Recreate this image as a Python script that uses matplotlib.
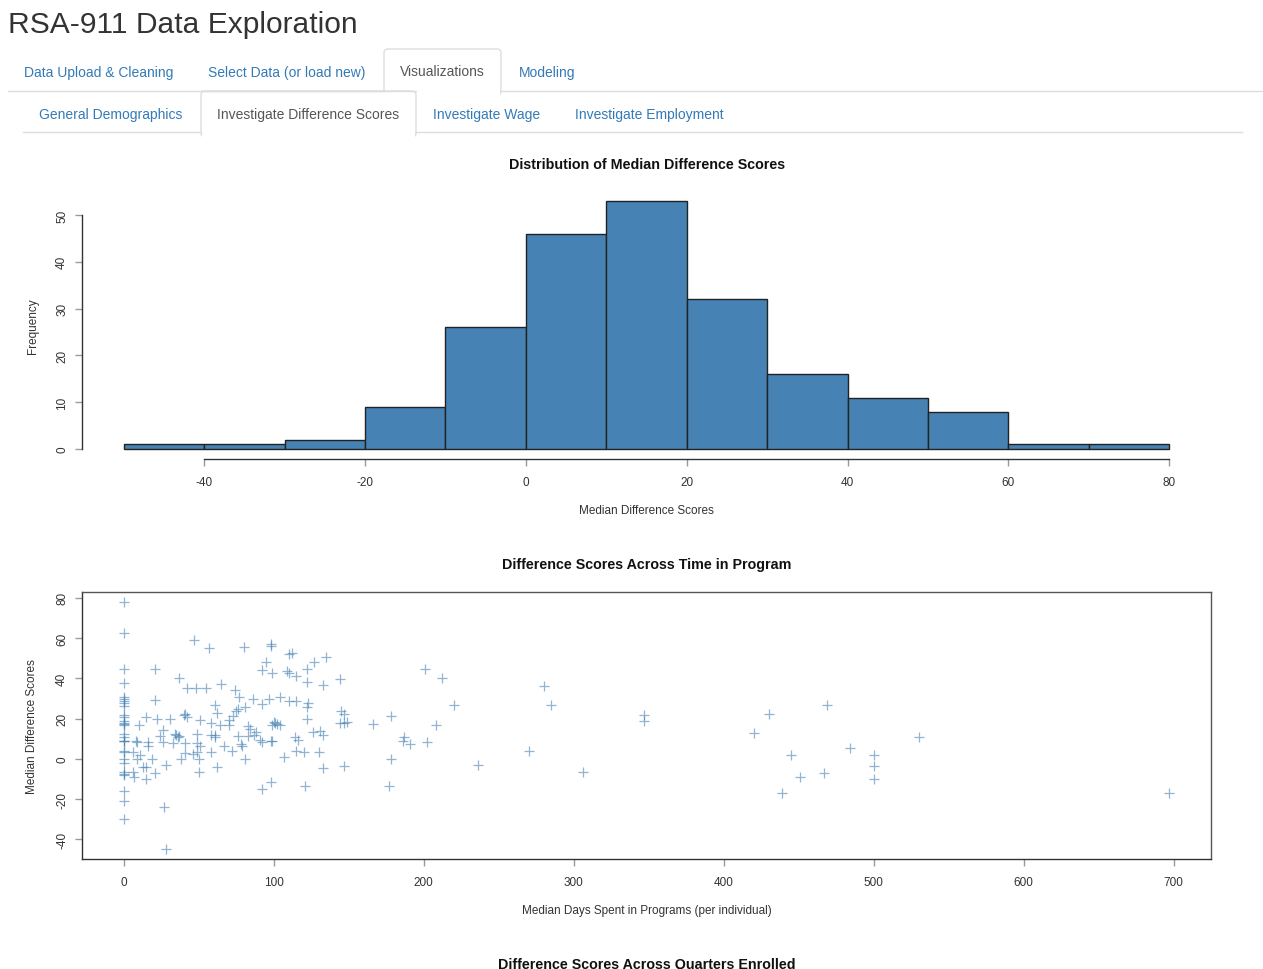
import numpy as np
import matplotlib
matplotlib.use("Agg")
import matplotlib.pyplot as plt
from matplotlib.patches import FancyBboxPatch

plt.rcParams['font.family'] = ['Liberation Sans', 'DejaVu Sans']

# ---------------- data ----------------
bin_edges = [-50, -40, -30, -20, -10, 0, 10, 20, 30, 40, 50, 60, 70, 80]
bin_counts = [1, 1, 2, 9, 26, 46, 53, 32, 16, 11, 8, 1, 1]
hist_xticks = [-40, -20, 0, 20, 40, 60, 80]
hist_yticks = [0, 10, 20, 30, 40, 50]

# individuals with 0 median days
days_zero_scores = [78, 62.5, 44.5, 37.5, 31, 30, 29, 28, 26.5, 22, 21, 19, 18, 17.5, 17,
                    12.5, 11, 9, 9, 9, 4, 3.5, 0, -2, -6.5, -7.5, -8, -16, -21, -30]
# (median days, median difference score) for the rest
days_score_pairs = [
    (21, 44.8), (21, 29.5), (10, 17), (15, 21), (22, 20), (31, 20), (26, 14.6), (24, 11.6),
    (8, 9), (9, 8.5), (16, 8.6), (16, 6.6), (6, 3.3), (11, 2), (9, 0), (19, 0), (13, -4),
    (15, -4), (6, -6.5), (7, -9), (21, -7), (28, -3), (15, -10), (27, -23.7), (28, -44.8),
    (26, 8.3), (35, 12), (36, 11), (34, 12.5), (37, 11.5), (33, 8), (37, 40), (42, 35),
    (48, 35), (55, 35), (47, 58.9), (57, 55), (40, 22), (42, 21), (41, 22.5), (51, 19.4),
    (41, 8), (41, 3), (46, 2.5), (49, 3.5), (49, 12.3), (49, 8), (51, 6.6), (38, 0), (50, 0),
    (50, -6.6), (58, 17.7), (58, 12), (61, 12), (61, 10.8), (61, 27), (62, 22.9), (65, 37),
    (64, 17), (67, 6.6), (58, 3.6), (62, -3.8), (70, 19.4), (70, 17), (72, 4), (73, 21.5),
    (75, 24), (76, 25), (74, 34), (77, 30.7), (76, 11.3), (80, 55.6), (78, 7.4), (79, 6.6),
    (81, 0), (81, 25.7), (83, 16.6), (84, 15), (83, 11.6), (86, 30), (88, 13.3), (87, 12),
    (92, 27.4), (91, 9.6), (92, 8.6), (92, 44), (95, 48), (92, -15), (97, 30), (98, 9),
    (99, 9), (99, 17), (100, 18.5), (101, 18), (102, 17.5), (104, 17), (98, 57), (98, 56),
    (99, 42.8), (98, -11.3), (104, 31), (107, 1), (109, 43.5), (110, 42.8), (110, 52.2),
    (112, 52.7), (110, 29), (115, 29), (114, 10.8), (116, 9.6), (115, 41.4), (115, 4),
    (120, 3.6), (121, -13.6), (122, 44.8), (122, 38), (123, 28), (122, 25.7), (122, 20),
    (126, 13.3), (127, 48), (130, 3.3), (135, 50.6), (133, 36.5), (144, 39.8), (145, 24),
    (147, 22.4), (144, 18), (147, 18), (149, 18.5), (131, 14), (133, 12), (133, -4.5),
    (147, -3.3), (166, 17.4), (178, 21.5), (178, 0), (177, -13.6), (187, 11), (186, 9),
    (191, 7.5), (201, 44.8), (212, 40), (202, 8.3), (208, 17), (220, 26.9), (236, -3),
    (280, 36), (285, 27), (270, 4), (306, -6.6), (347, 21.9), (347, 19), (430, 22.4),
    (469, 26.9), (420, 12.9), (530, 11.1), (484, 5.5), (445, 2), (500, 2), (500, -3.3),
    (500, -10), (451, -9.1), (467, -7), (439, -17), (697, -17),
]
scatter_xticks = [0, 100, 200, 300, 400, 500, 600, 700]
scatter_yticks = [-40, -20, 0, 20, 40, 60, 80]

days = np.array([0.0] * len(days_zero_scores) + [p[0] for p in days_score_pairs])
scores = np.array(list(days_zero_scores) + [p[1] for p in days_score_pairs], dtype=float)

# ---------------- figure ----------------
W, H = 1263, 970
fig = plt.figure(figsize=(W / 100, H / 100), dpi=100)

def px_rect(l, t, r, b):
    return [l / W, 1 - b / H, (r - l) / W, (b - t) / H]

STEEL = '#4682b4'
TXT = '#333333'

def r_style(ax, xticks, yticks, box=False):
    for s in ax.spines.values():
        s.set_visible(box)
        s.set_color('#555555')
        s.set_linewidth(1)
    ax.spines['left'].set_visible(True)
    ax.spines['bottom'].set_visible(True)
    ax.spines['left'].set_color('#333333')
    ax.spines['bottom'].set_color('#333333')
    if not box:
        ax.spines['left'].set_bounds(yticks[0], yticks[-1])
        ax.spines['bottom'].set_bounds(xticks[0], xticks[-1])
    ax.set_xticks(xticks)
    ax.set_yticks(yticks)
    ax.set_xticklabels([str(v) for v in xticks])
    ax.set_yticklabels([str(v) for v in yticks], rotation=90, va='center')
    ax.tick_params(axis='both', length=5, width=1, color='#999999', labelcolor=TXT, labelsize=8.5)
    ax.tick_params(axis='x', pad=7.5)
    ax.tick_params(axis='y', pad=5)

# ---- histogram ----
ax1 = fig.add_axes(px_rect(82, 192, 1211, 460))
ax1.bar(bin_edges[:-1], bin_counts, width=np.diff(bin_edges), align='edge',
        color=STEEL, edgecolor='#222222', linewidth=1)
xr = bin_edges[-1] - bin_edges[0]
ax1.set_xlim(bin_edges[0] - 0.04 * xr, bin_edges[-1] + 0.04 * xr)
yr = max(bin_counts)
ax1.set_ylim(-0.04 * yr, yr * 1.04)
r_style(ax1, hist_xticks, hist_yticks)
ax1.set_xlabel('Median Difference Scores', fontsize=8.5, color=TXT)
ax1.set_ylabel('Frequency', fontsize=8.5, color=TXT)
ax1.xaxis.set_label_coords(0.5, (460 - 511) / (460 - 192))
ax1.xaxis.label.set_va('center')
ax1.yaxis.set_label_coords((33 - 82) / (1211 - 82), 0.5)
ax1.yaxis.label.set_va('center')

# ---- scatter ----
ax2 = fig.add_axes(px_rect(82, 593, 1211, 860))
ax2.scatter(days, scores, marker='+', s=55, color=STEEL, alpha=0.6, linewidths=0.9)
ax2.margins(x=0.04, y=0.04)
r_style(ax2, scatter_xticks, scatter_yticks, box=True)
ax2.set_xlabel('Median Days Spent in Programs (per individual)', fontsize=8.5, color=TXT)
ax2.set_ylabel('Median Difference Scores', fontsize=8.5, color=TXT)
ax2.xaxis.set_label_coords(0.5, (860 - 911) / (860 - 593))
ax2.xaxis.label.set_va('center')
ax2.yaxis.set_label_coords((32 - 82) / (1211 - 82), 0.5)
ax2.yaxis.label.set_va('center')

# ---- page overlay (header, tabs, titles) ----
ov = fig.add_axes([0, 0, 1, 1], zorder=-1)
ov.set_xlim(0, W)
ov.set_ylim(H, 0)
ov.axis('off')

ov.text(8, 25, 'RSA-911 Data Exploration', fontsize=21.6, color=TXT, va='center', ha='left')

LINK = '#337ab7'
BORDER = '#dddddd'
# row 1
ov.plot([8, 384], [92, 92], color=BORDER, lw=1)
ov.plot([501, 1263], [92, 92], color=BORDER, lw=1)
ov.add_patch(FancyBboxPatch((384, 50), 117, 46, boxstyle='round,pad=0,rounding_size=4',
                            facecolor='white', edgecolor=BORDER, lw=1))
ov.add_patch(plt.Rectangle((385, 88), 115, 10, facecolor='white', edgecolor='none'))
row1 = [('Data Upload & Cleaning', 24, LINK), ('Select Data (or load new)', 208, LINK),
        ('Visualizations', 400, '#555555'), ('Modeling', 519, LINK)]
for t, x, c in row1:
    ov.text(x, 76.5, t, fontsize=10, color=c, va='baseline', ha='left')
# row 2
ov.plot([23, 201], [133, 133], color=BORDER, lw=1)
ov.plot([416, 1242], [133, 133], color=BORDER, lw=1)
ov.plot([201, 416], [92, 92], color=BORDER, lw=1)
ov.add_patch(FancyBboxPatch((201, 92), 215, 46, boxstyle='round,pad=0,rounding_size=4',
                            facecolor='white', edgecolor=BORDER, lw=1))
ov.add_patch(plt.Rectangle((202, 128), 213, 12, facecolor='white', edgecolor='none'))
row2 = [('General Demographics', 39, LINK), ('Investigate Difference Scores', 217, '#555555'),
        ('Investigate Wage', 433, LINK), ('Investigate Employment', 575, LINK)]
for t, x, c in row2:
    ov.text(x, 118.5, t, fontsize=10, color=c, va='baseline', ha='left')

for t, y in [('Distribution of Median Difference Scores', 165),
             ('Difference Scores Across Time in Program', 565),
             ('Difference Scores Across Quarters Enrolled', 965)]:
    ov.text(647, y, t, fontsize=10.3, fontweight='bold', color='#111111', va='center', ha='center')

fig.savefig('out.png', dpi=100, facecolor='white')
